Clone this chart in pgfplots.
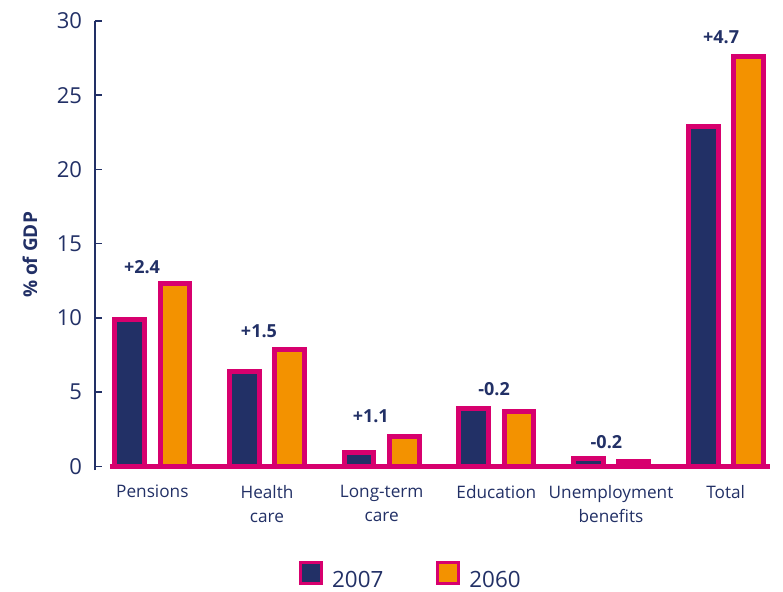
\documentclass[border=0pt]{standalone}
\usepackage{pgfplots}
\pgfplotsset{compat=1.18}
\usepackage{fontspec}
\setmainfont{Open Sans}
\definecolor{navy}{RGB}{34,48,102}
\definecolor{orng}{RGB}{243,146,0}
\definecolor{mgnta}{RGB}{215,0,110}
\begin{document}
\begin{tikzpicture}
\path[use as bounding box] (-47.5pt,-60.5pt) rectangle (344pt,235pt);
\begin{axis}[
  at={(0,0)}, anchor=south west, scale only axis,
  width=340pt, height=224.5pt,
  xmin=-0.5, xmax=5.43, ymin=-0.25, ymax=30,
  clip=false,
  axis x line*=bottom, axis y line*=left,
  x axis line style={draw=none},
  y axis line style={draw=navy, line width=0.75pt},
  xtick={0,1,2,3,4,5},
  xticklabels={Pensions, Health\\care, Long-term\\care, Education, Unemployment\\benefits, Total},
  x tick style={draw=none},
  xticklabel style={align=center, font=\fontsize{8.6}{12}\selectfont, text=navy, yshift=-4pt},
  ytick={0,5,10,15,20,25,30},
  tick align=inside,
  major tick length=3.5pt,
  y tick style={draw=navy, line width=0.75pt},
  yticklabel style={font=\fontsize{11}{13}\selectfont, text=navy, xshift=-3pt},
  /pgf/number format/assume math mode=true,
  ylabel={\% of GDP},
  ylabel style={at={(axis description cs:-0.0956,0.479)}, anchor=center, font=\bfseries\fontsize{9.5}{11}\selectfont, text=navy},
  legend style={at={(axis description cs:0.466,-0.2405)}, anchor=center, draw=none, fill=none,
    legend columns=2, font=\fontsize{11.2}{13}\selectfont, text=navy,
    /tikz/every odd column/.append style={column sep=2.5pt},
    /tikz/every even column/.append style={column sep=24.5pt},
    legend cell align=left},
  legend image code/.code={\draw[#1, line width=1.5pt] (0pt,-1.25pt) rectangle (10.5pt,9.25pt);},
]
\addplot[mgnta, line width=2.5pt, forget plot] coordinates {(-0.37,0) (5.385,0)};
\addplot[ybar, bar width=0.26, bar shift=-0.197, fill=navy, draw=mgnta, line width=2.5pt, line join=miter]
  coordinates {(0,9.9) (1,6.4) (2,0.9) (3,3.9) (4,0.5) (5,22.9)};
\addplot[ybar, bar width=0.26, bar shift=0.197, fill=orng, draw=mgnta, line width=2.5pt, line join=miter]
  coordinates {(0,12.3) (1,7.9) (2,2.0) (3,3.7) (4,0.3) (5,27.6)};
\legend{2007,2060}
\begin{scope}[every node/.style={font=\bfseries\fontsize{9}{11}\selectfont, text=navy}]
\node at (axis cs:-0.09,13.4) {+2.4};
\node at (axis cs:0.93,9.1) {+1.5};
\node at (axis cs:1.905,3.35) {+1.1};
\node at (axis cs:2.98,5.2) {-0.2};
\node at (axis cs:3.96,1.6) {-0.2};
\node at (axis cs:4.96,28.9) {+4.7};
\end{scope}
\end{axis}
\end{tikzpicture}
\end{document}
